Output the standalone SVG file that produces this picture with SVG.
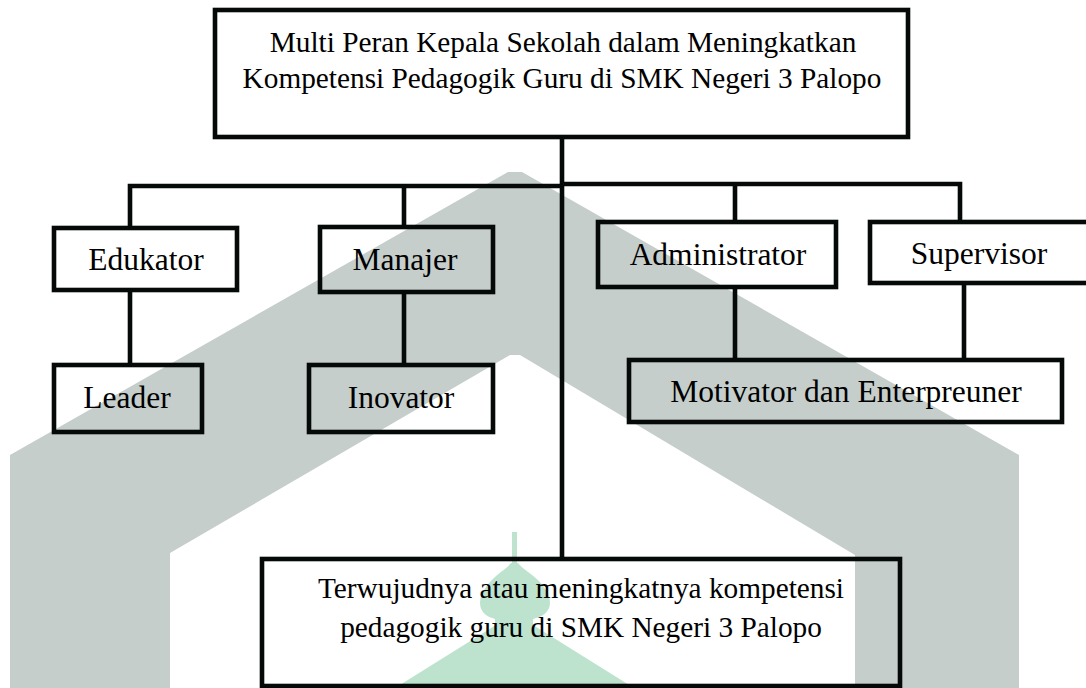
<svg xmlns="http://www.w3.org/2000/svg" width="1086" height="688" viewBox="0 0 1086 688">
<style>
.box{fill:none;stroke:#050a08;stroke-width:4.6;stroke-linejoin:miter}
.ln{fill:none;stroke:#050a08;stroke-width:4.6;stroke-linejoin:miter;stroke-linecap:butt}
.t{font-family:'Liberation Serif','DejaVu Serif',serif;fill:#000;text-anchor:middle}
.big{font-size:29.3px}
.nd{font-size:31.5px}
</style>
<rect width="1086" height="688" fill="#ffffff"/>
<g id="watermark">
<polygon fill="#c5cecb" points="10,688 10,455 508,172 522,172 1019,455 1019,688 855,688 855,555 520,355 510,355 170,553 170,688"/>
<g fill="#bde3cf">
<rect x="512" y="532" width="5" height="32"/>
<path d="M511,563 L518,563 C522,568 526,570 528,572 C540,580 550,592 550,603 C550,612 542,617 533,619 L533,625 L495,625 L495,619 C487,617 480,612 480,603 C480,592 490,580 501,572 C503,570 507,568 511,563 Z"/>
<polygon points="512,615 517,615 634,688 395,688"/>
</g>
</g>
<g id="connectors">
<path class="ln" d="M562,137 V559"/>
<path class="ln" d="M130,228 V186 H562"/>
<path class="ln" d="M404,186 V227"/>
<path class="ln" d="M562,184 H960 V222"/>
<path class="ln" d="M735,184 V222"/>
<path class="ln" d="M130,290 V365"/>
<path class="ln" d="M404,292 V365"/>
<path class="ln" d="M735,287 V360"/>
<path class="ln" d="M964,283 V360"/>
</g>
<g id="node-top">
<rect class="box" x="215" y="10" width="693" height="127"/>
<text class="t big" x="563" y="52" font-family="Liberation Serif, serif">Multi Peran Kepala Sekolah dalam Meningkatkan</text>
<text class="t big" x="562" y="88" font-family="Liberation Serif, serif">Kompetensi Pedagogik Guru di SMK Negeri 3 Palopo</text>
</g>
<g id="node-edukator">
<rect class="box" x="54" y="228" width="183" height="62"/>
<text class="t nd" x="146" y="270">Edukator</text>
</g>
<g id="node-manajer">
<rect class="box" x="320" y="227" width="173" height="65"/>
<text class="t nd" x="405" y="270">Manajer</text>
</g>
<g id="node-administrator">
<rect class="box" x="598" y="222" width="238" height="65"/>
<text class="t nd" x="718" y="265">Administrator</text>
</g>
<g id="node-supervisor">
<rect class="box" x="870" y="222" width="230" height="61"/>
<text class="t nd" x="979" y="264">Supervisor</text>
</g>
<g id="node-leader">
<rect class="box" x="54" y="365" width="148" height="67"/>
<text class="t nd" x="127" y="408">Leader</text>
</g>
<g id="node-inovator">
<rect class="box" x="309" y="365" width="184" height="67"/>
<text class="t nd" x="401" y="408">Inovator</text>
</g>
<g id="node-motivator">
<rect class="box" x="629" y="360" width="433" height="62"/>
<text class="t nd" x="846" y="402">Motivator dan Enterpreuner</text>
</g>
<g id="node-bottom">
<rect class="box" x="262" y="559" width="638" height="127"/>
<text class="t big" x="581" y="598">Terwujudnya atau meningkatnya kompetensi</text>
<text class="t big" x="581" y="637">pedagogik guru di SMK Negeri 3 Palopo</text>
</g>
</svg>
